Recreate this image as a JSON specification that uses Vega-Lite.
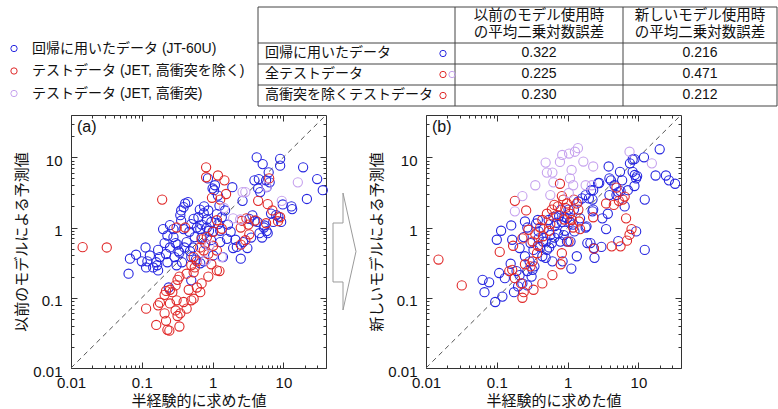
{
  "$schema": "https://vega.github.io/schema/vega-lite/v6.json",
  "background": "white",
  "padding": 0,
  "config": {
    "view": {"stroke": null},
    "font": "Liberation Sans",
    "axis": {"grid": false, "domain": false, "labelFont": "Liberation Sans", "labelFontSize": 15, "labelColor": "#111", "titleFont": "Noto Sans CJK JP", "titleFontSize": 15, "titleFontWeight": "normal", "titleColor": "#111", "tickColor": "#333", "domainColor": "#333", "labelFlush": false, "labelOverlap": false},
    "legend": {"orient": "none", "legendX": 7, "legendY": 41.5, "title": null, "padding": 0, "labelFont": "Liberation Sans, Noto Sans CJK JP", "labelFontSize": 14, "labelColor": "#111", "labelLimit": 400, "symbolType": "circle", "symbolSize": 40, "symbolStrokeWidth": 1, "labelOffset": 11, "rowPadding": 8.5}
  },
  "datasets": {
    "diag": [{"v": 0.01}, {"v": 40}],
    "cells": [
      {"r": 0, "c": 1, "t": "以前のモデル使用時\nの平均二乗対数誤差"},
      {"r": 0, "c": 2, "t": "新しいモデル使用時\nの平均二乗対数誤差"},
      {"r": 1, "c": 0, "t": "回帰に用いたデータ"},
      {"r": 1, "c": 1, "t": "0.322"},
      {"r": 1, "c": 2, "t": "0.216"},
      {"r": 2, "c": 0, "t": "全テストデータ"},
      {"r": 2, "c": 1, "t": "0.225"},
      {"r": 2, "c": 2, "t": "0.471"},
      {"r": 3, "c": 0, "t": "高衝突を除くテストデータ"},
      {"r": 3, "c": 1, "t": "0.230"},
      {"r": 3, "c": 2, "t": "0.212"}
    ],
    "marks": [{"r": 1, "g": "reg"}, {"r": 2, "g": "test"}, {"r": 2, "g": "hc"}, {"r": 3, "g": "test"}],
    "pts": [
      {"p":"a","g":"reg","x":0.065,"y":0.22},{"p":"a","g":"reg","x":0.068,"y":0.36},{"p":"a","g":"reg","x":0.083,"y":0.41},{"p":"a","g":"reg","x":0.1,"y":0.33},{"p":"a","g":"reg","x":0.113,"y":0.52},{"p":"a","g":"reg","x":0.115,"y":0.27},{"p":"a","g":"reg","x":0.12,"y":0.33},{"p":"a","g":"reg","x":0.13,"y":0.4},{"p":"a","g":"reg","x":0.145,"y":0.27},{"p":"a","g":"reg","x":0.16,"y":0.32},{"p":"a","g":"reg","x":0.165,"y":0.29},{"p":"a","g":"reg","x":0.17,"y":0.245},{"p":"a","g":"reg","x":0.17,"y":0.48},{"p":"a","g":"reg","x":0.18,"y":0.38},{"p":"a","g":"reg","x":0.2,"y":0.95},{"p":"a","g":"reg","x":0.21,"y":0.6},{"p":"a","g":"reg","x":0.22,"y":0.42},{"p":"a","g":"reg","x":0.23,"y":0.32},{"p":"a","g":"reg","x":0.23,"y":0.77},{"p":"a","g":"reg","x":0.24,"y":0.14},{"p":"a","g":"reg","x":0.25,"y":0.52},{"p":"a","g":"reg","x":0.25,"y":1.08},{"p":"a","g":"reg","x":0.28,"y":0.73},{"p":"a","g":"reg","x":0.28,"y":0.95},{"p":"a","g":"reg","x":0.29,"y":0.38},{"p":"a","g":"reg","x":0.3,"y":0.6},{"p":"a","g":"reg","x":0.31,"y":0.29},{"p":"a","g":"reg","x":0.32,"y":0.57},{"p":"a","g":"reg","x":0.33,"y":0.46},{"p":"a","g":"reg","x":0.34,"y":0.44},{"p":"a","g":"reg","x":0.35,"y":1.5},{"p":"a","g":"reg","x":0.36,"y":1.75},{"p":"a","g":"reg","x":0.36,"y":1.25},{"p":"a","g":"reg","x":0.37,"y":0.32},{"p":"a","g":"reg","x":0.39,"y":1.95},{"p":"a","g":"reg","x":0.39,"y":0.95},{"p":"a","g":"reg","x":0.4,"y":0.52},{"p":"a","g":"reg","x":0.41,"y":2.2},{"p":"a","g":"reg","x":0.43,"y":0.62},{"p":"a","g":"reg","x":0.45,"y":2.3},{"p":"a","g":"reg","x":0.47,"y":0.87},{"p":"a","g":"reg","x":0.48,"y":0.46},{"p":"a","g":"reg","x":0.5,"y":0.38},{"p":"a","g":"reg","x":0.5,"y":1.12},{"p":"a","g":"reg","x":0.5,"y":0.177},{"p":"a","g":"reg","x":0.53,"y":0.52},{"p":"a","g":"reg","x":0.54,"y":1.33},{"p":"a","g":"reg","x":0.56,"y":0.73},{"p":"a","g":"reg","x":0.58,"y":0.35},{"p":"a","g":"reg","x":0.6,"y":1.0},{"p":"a","g":"reg","x":0.63,"y":1.4},{"p":"a","g":"reg","x":0.66,"y":1.8},{"p":"a","g":"reg","x":0.67,"y":0.95},{"p":"a","g":"reg","x":0.67,"y":0.31},{"p":"a","g":"reg","x":0.7,"y":1.1},{"p":"a","g":"reg","x":0.7,"y":0.72},{"p":"a","g":"reg","x":0.75,"y":1.6},{"p":"a","g":"reg","x":0.75,"y":0.33},{"p":"a","g":"reg","x":0.76,"y":2.0},{"p":"a","g":"reg","x":0.79,"y":0.59},{"p":"a","g":"reg","x":0.83,"y":1.3},{"p":"a","g":"reg","x":0.83,"y":1.0},{"p":"a","g":"reg","x":0.86,"y":5.0},{"p":"a","g":"reg","x":0.87,"y":1.75},{"p":"a","g":"reg","x":0.89,"y":0.9},{"p":"a","g":"reg","x":0.95,"y":0.66},{"p":"a","g":"reg","x":0.96,"y":1.2},{"p":"a","g":"reg","x":1.0,"y":0.87},{"p":"a","g":"reg","x":1.0,"y":3.6},{"p":"a","g":"reg","x":1.02,"y":0.4},{"p":"a","g":"reg","x":1.05,"y":3.4},{"p":"a","g":"reg","x":1.08,"y":4.0},{"p":"a","g":"reg","x":1.15,"y":1.55},{"p":"a","g":"reg","x":1.19,"y":2.85},{"p":"a","g":"reg","x":1.2,"y":1.12},{"p":"a","g":"reg","x":1.25,"y":2.05},{"p":"a","g":"reg","x":1.28,"y":0.9},{"p":"a","g":"reg","x":1.28,"y":0.62},{"p":"a","g":"reg","x":1.35,"y":1.4},{"p":"a","g":"reg","x":1.4,"y":0.38},{"p":"a","g":"reg","x":1.5,"y":1.75},{"p":"a","g":"reg","x":1.6,"y":0.69},{"p":"a","g":"reg","x":1.65,"y":1.1},{"p":"a","g":"reg","x":1.8,"y":0.87},{"p":"a","g":"reg","x":1.9,"y":3.75},{"p":"a","g":"reg","x":1.95,"y":0.51},{"p":"a","g":"reg","x":2.1,"y":0.67},{"p":"a","g":"reg","x":2.2,"y":0.53},{"p":"a","g":"reg","x":2.5,"y":0.36},{"p":"a","g":"reg","x":2.65,"y":2.4},{"p":"a","g":"reg","x":2.7,"y":0.62},{"p":"a","g":"reg","x":3.1,"y":0.51},{"p":"a","g":"reg","x":3.3,"y":1.33},{"p":"a","g":"reg","x":3.5,"y":0.72},{"p":"a","g":"reg","x":3.65,"y":1.49},{"p":"a","g":"reg","x":3.9,"y":1.23},{"p":"a","g":"reg","x":3.9,"y":4.7},{"p":"a","g":"reg","x":4.2,"y":10},{"p":"a","g":"reg","x":4.3,"y":1.2},{"p":"a","g":"reg","x":4.4,"y":3.6},{"p":"a","g":"reg","x":4.5,"y":4.9},{"p":"a","g":"reg","x":4.6,"y":0.83},{"p":"a","g":"reg","x":4.7,"y":3.2},{"p":"a","g":"reg","x":5.0,"y":0.72},{"p":"a","g":"reg","x":5.1,"y":8.0},{"p":"a","g":"reg","x":5.3,"y":1.0},{"p":"a","g":"reg","x":5.4,"y":1.07},{"p":"a","g":"reg","x":5.7,"y":4.7},{"p":"a","g":"reg","x":5.8,"y":3.75},{"p":"a","g":"reg","x":5.8,"y":0.89},{"p":"a","g":"reg","x":6.0,"y":0.83},{"p":"a","g":"reg","x":6.2,"y":6.1},{"p":"a","g":"reg","x":6.4,"y":4.4},{"p":"a","g":"reg","x":6.7,"y":1.58},{"p":"a","g":"reg","x":7.2,"y":1.2},{"p":"a","g":"reg","x":7.9,"y":1.5},{"p":"a","g":"reg","x":8.5,"y":1.43},{"p":"a","g":"reg","x":9,"y":9.5},{"p":"a","g":"reg","x":9,"y":7.6},{"p":"a","g":"reg","x":9.3,"y":1.2},{"p":"a","g":"reg","x":9.8,"y":2.13},{"p":"a","g":"reg","x":13,"y":2.0},{"p":"a","g":"reg","x":13.3,"y":1.83},{"p":"a","g":"reg","x":19,"y":7.2},{"p":"a","g":"reg","x":21.5,"y":2.55},{"p":"a","g":"reg","x":30,"y":4.9},{"p":"a","g":"reg","x":36,"y":3.4},
      {"p":"a","g":"test","x":0.0146,"y":0.525},{"p":"a","g":"test","x":0.032,"y":0.52},{"p":"a","g":"test","x":0.194,"y":2.5},{"p":"a","g":"test","x":0.31,"y":1.0},{"p":"a","g":"test","x":0.41,"y":1.0},{"p":"a","g":"test","x":0.81,"y":7.2},{"p":"a","g":"test","x":0.81,"y":5.2},{"p":"a","g":"test","x":1.19,"y":5.5},{"p":"a","g":"test","x":1.47,"y":4.7},{"p":"a","g":"test","x":0.98,"y":2.65},{"p":"a","g":"test","x":1.28,"y":2.5},{"p":"a","g":"test","x":1.55,"y":3.0},{"p":"a","g":"test","x":1.15,"y":1.27},{"p":"a","g":"test","x":1.35,"y":0.96},{"p":"a","g":"test","x":1.02,"y":0.87},{"p":"a","g":"test","x":0.83,"y":0.73},{"p":"a","g":"test","x":0.75,"y":0.47},{"p":"a","g":"test","x":0.87,"y":0.42},{"p":"a","g":"test","x":0.96,"y":0.3},{"p":"a","g":"test","x":1.15,"y":0.245},{"p":"a","g":"test","x":0.87,"y":0.2},{"p":"a","g":"test","x":0.7,"y":0.16},{"p":"a","g":"test","x":0.67,"y":0.12},{"p":"a","g":"test","x":0.56,"y":0.27},{"p":"a","g":"test","x":0.5,"y":0.29},{"p":"a","g":"test","x":0.54,"y":0.23},{"p":"a","g":"test","x":0.43,"y":0.22},{"p":"a","g":"test","x":0.34,"y":0.2},{"p":"a","g":"test","x":0.32,"y":0.18},{"p":"a","g":"test","x":0.3,"y":0.15},{"p":"a","g":"test","x":0.25,"y":0.13},{"p":"a","g":"test","x":0.21,"y":0.11},{"p":"a","g":"test","x":0.22,"y":0.125},{"p":"a","g":"test","x":0.27,"y":0.12},{"p":"a","g":"test","x":0.31,"y":0.092},{"p":"a","g":"test","x":0.25,"y":0.083},{"p":"a","g":"test","x":0.18,"y":0.085},{"p":"a","g":"test","x":0.17,"y":0.078},{"p":"a","g":"test","x":0.115,"y":0.07},{"p":"a","g":"test","x":0.21,"y":0.06},{"p":"a","g":"test","x":0.3,"y":0.066},{"p":"a","g":"test","x":0.35,"y":0.06},{"p":"a","g":"test","x":0.43,"y":0.07},{"p":"a","g":"test","x":0.39,"y":0.087},{"p":"a","g":"test","x":0.5,"y":0.092},{"p":"a","g":"test","x":0.54,"y":0.097},{"p":"a","g":"test","x":0.22,"y":0.047},{"p":"a","g":"test","x":0.16,"y":0.041},{"p":"a","g":"test","x":0.23,"y":0.035},{"p":"a","g":"test","x":0.245,"y":0.034},{"p":"a","g":"test","x":0.34,"y":0.039},{"p":"a","g":"test","x":0.32,"y":0.055},{"p":"a","g":"test","x":0.6,"y":0.14},{"p":"a","g":"test","x":0.46,"y":0.13},{"p":"a","g":"test","x":0.54,"y":0.38},{"p":"a","g":"test","x":0.6,"y":0.33},{"p":"a","g":"test","x":0.67,"y":0.52},{"p":"a","g":"test","x":0.7,"y":0.68},{"p":"a","g":"test","x":1.02,"y":0.55},{"p":"a","g":"test","x":1.15,"y":0.47},{"p":"a","g":"test","x":1.25,"y":0.24},{"p":"a","g":"test","x":2.5,"y":0.57},{"p":"a","g":"test","x":2.9,"y":0.66},{"p":"a","g":"test","x":3.3,"y":0.8},{"p":"a","g":"test","x":4.4,"y":2.4},{"p":"a","g":"test","x":6.0,"y":2.15},{"p":"a","g":"test","x":7.0,"y":1.75},{"p":"a","g":"test","x":3.0,"y":1.35},{"p":"a","g":"test","x":4.0,"y":1.26},{"p":"a","g":"test","x":3.2,"y":1.1},{"p":"a","g":"test","x":5.7,"y":1.15},{"p":"a","g":"test","x":8.4,"y":1.23},{"p":"a","g":"test","x":9,"y":1.4},{"p":"a","g":"test","x":6.3,"y":5.0},{"p":"a","g":"test","x":2.5,"y":1.0},{"p":"a","g":"test","x":2.6,"y":1.25},
      {"p":"a","g":"hc","x":2.65,"y":3.2},{"p":"a","g":"hc","x":2.9,"y":3.2},{"p":"a","g":"hc","x":1.95,"y":1.35},{"p":"a","g":"hc","x":2.45,"y":1.3},{"p":"a","g":"hc","x":5.8,"y":3.8},{"p":"a","g":"hc","x":16,"y":4.4},{"p":"a","g":"hc","x":9.5,"y":2.4},{"p":"a","g":"hc","x":1.35,"y":0.38},{"p":"a","g":"hc","x":1.45,"y":1.9},{"p":"a","g":"hc","x":0.8,"y":0.34},{"p":"a","g":"hc","x":0.9,"y":0.55},
      {"p":"b","g":"reg","x":0.063,"y":0.18},{"p":"b","g":"reg","x":0.067,"y":0.12},{"p":"b","g":"reg","x":0.078,"y":0.166},{"p":"b","g":"reg","x":0.095,"y":0.087},{"p":"b","g":"reg","x":0.108,"y":0.225},{"p":"b","g":"reg","x":0.12,"y":0.104},{"p":"b","g":"reg","x":0.13,"y":0.19},{"p":"b","g":"reg","x":0.1,"y":0.67},{"p":"b","g":"reg","x":0.115,"y":0.9},{"p":"b","g":"reg","x":0.16,"y":1.07},{"p":"b","g":"reg","x":0.165,"y":0.67},{"p":"b","g":"reg","x":0.157,"y":0.305},{"p":"b","g":"reg","x":0.175,"y":0.12},{"p":"b","g":"reg","x":0.2,"y":0.145},{"p":"b","g":"reg","x":0.21,"y":0.51},{"p":"b","g":"reg","x":0.24,"y":0.73},{"p":"b","g":"reg","x":0.25,"y":0.39},{"p":"b","g":"reg","x":0.25,"y":1.22},{"p":"b","g":"reg","x":0.27,"y":1.0},{"p":"b","g":"reg","x":0.29,"y":0.33},{"p":"b","g":"reg","x":0.3,"y":0.6},{"p":"b","g":"reg","x":0.31,"y":0.2},{"p":"b","g":"reg","x":0.33,"y":0.48},{"p":"b","g":"reg","x":0.36,"y":1.14},{"p":"b","g":"reg","x":0.38,"y":1.28},{"p":"b","g":"reg","x":0.39,"y":0.7},{"p":"b","g":"reg","x":0.41,"y":0.53},{"p":"b","g":"reg","x":0.44,"y":0.39},{"p":"b","g":"reg","x":0.46,"y":0.95},{"p":"b","g":"reg","x":0.49,"y":0.63},{"p":"b","g":"reg","x":0.51,"y":0.48},{"p":"b","g":"reg","x":0.54,"y":1.28},{"p":"b","g":"reg","x":0.57,"y":0.78},{"p":"b","g":"reg","x":0.6,"y":0.6},{"p":"b","g":"reg","x":0.63,"y":1.42},{"p":"b","g":"reg","x":0.66,"y":1.05},{"p":"b","g":"reg","x":0.73,"y":0.82},{"p":"b","g":"reg","x":0.76,"y":1.46},{"p":"b","g":"reg","x":0.81,"y":1.8},{"p":"b","g":"reg","x":0.83,"y":1.2},{"p":"b","g":"reg","x":0.88,"y":0.78},{"p":"b","g":"reg","x":0.92,"y":0.9},{"p":"b","g":"reg","x":0.98,"y":1.35},{"p":"b","g":"reg","x":1.03,"y":1.8},{"p":"b","g":"reg","x":1.08,"y":1.2},{"p":"b","g":"reg","x":1.1,"y":0.63},{"p":"b","g":"reg","x":1.13,"y":0.26},{"p":"b","g":"reg","x":1.23,"y":1.8},{"p":"b","g":"reg","x":1.35,"y":0.39},{"p":"b","g":"reg","x":1.42,"y":2.35},{"p":"b","g":"reg","x":1.5,"y":1.35},{"p":"b","g":"reg","x":1.6,"y":2.6},{"p":"b","g":"reg","x":1.8,"y":1.0},{"p":"b","g":"reg","x":1.9,"y":0.6},{"p":"b","g":"reg","x":2.0,"y":2.6},{"p":"b","g":"reg","x":2.15,"y":3.4},{"p":"b","g":"reg","x":2.25,"y":2.5},{"p":"b","g":"reg","x":2.3,"y":1.8},{"p":"b","g":"reg","x":2.35,"y":0.51},{"p":"b","g":"reg","x":2.4,"y":0.37},{"p":"b","g":"reg","x":2.7,"y":4.3},{"p":"b","g":"reg","x":3.0,"y":0.53},{"p":"b","g":"reg","x":3.1,"y":1.35},{"p":"b","g":"reg","x":3.5,"y":0.95},{"p":"b","g":"reg","x":3.7,"y":1.57},{"p":"b","g":"reg","x":3.8,"y":7.4},{"p":"b","g":"reg","x":3.9,"y":5.0},{"p":"b","g":"reg","x":4.1,"y":4.7},{"p":"b","g":"reg","x":4.6,"y":4.0},{"p":"b","g":"reg","x":4.9,"y":2.9},{"p":"b","g":"reg","x":5.2,"y":3.2},{"p":"b","g":"reg","x":5.2,"y":0.64},{"p":"b","g":"reg","x":5.5,"y":6.2},{"p":"b","g":"reg","x":5.9,"y":4.7},{"p":"b","g":"reg","x":6.4,"y":2.0},{"p":"b","g":"reg","x":7.1,"y":3.4},{"p":"b","g":"reg","x":7.6,"y":8.2},{"p":"b","g":"reg","x":8.3,"y":9.3},{"p":"b","g":"reg","x":8.3,"y":6.2},{"p":"b","g":"reg","x":8.8,"y":3.9},{"p":"b","g":"reg","x":8.9,"y":5.6},{"p":"b","g":"reg","x":9.3,"y":5.0},{"p":"b","g":"reg","x":9.3,"y":0.88},{"p":"b","g":"reg","x":12,"y":10},{"p":"b","g":"reg","x":12.3,"y":2.5},{"p":"b","g":"reg","x":12.3,"y":0.48},{"p":"b","g":"reg","x":20,"y":13},{"p":"b","g":"reg","x":17.5,"y":5.5},{"p":"b","g":"reg","x":27,"y":4.7},{"p":"b","g":"reg","x":33,"y":4.2},{"p":"b","g":"reg","x":0.39,"y":0.88},{"p":"b","g":"reg","x":0.45,"y":0.63},{"p":"b","g":"reg","x":0.49,"y":0.37},{"p":"b","g":"reg","x":0.55,"y":0.52},{"p":"b","g":"reg","x":0.61,"y":0.33},{"p":"b","g":"reg","x":0.65,"y":0.72},{"p":"b","g":"reg","x":0.7,"y":1.17},{"p":"b","g":"reg","x":0.79,"y":0.63},{"p":"b","g":"reg","x":0.85,"y":0.33},{"p":"b","g":"reg","x":0.9,"y":1.42},{"p":"b","g":"reg","x":0.98,"y":0.63},{"p":"b","g":"reg","x":1.2,"y":1.1},{"p":"b","g":"reg","x":1.25,"y":0.88},{"p":"b","g":"reg","x":0.32,"y":0.25},{"p":"b","g":"reg","x":0.34,"y":0.28},{"p":"b","g":"reg","x":0.27,"y":0.24},{"p":"b","g":"reg","x":0.21,"y":0.21},{"p":"b","g":"reg","x":0.19,"y":0.24},{"p":"b","g":"reg","x":0.23,"y":0.16},{"p":"b","g":"reg","x":0.27,"y":0.15},{"p":"b","g":"reg","x":8.8,"y":9.4},{"p":"b","g":"reg","x":9.6,"y":5.4},{"p":"b","g":"reg","x":24.5,"y":5.5},{"p":"b","g":"reg","x":5.6,"y":3.3},{"p":"b","g":"reg","x":3.9,"y":2.9},{"p":"b","g":"reg","x":2.8,"y":4.3},{"p":"b","g":"reg","x":2.3,"y":3.4},{"p":"b","g":"reg","x":1.8,"y":2.9},{"p":"b","g":"reg","x":2.25,"y":1.7},{"p":"b","g":"reg","x":1.85,"y":1.04},{"p":"b","g":"reg","x":2.1,"y":0.6},
      {"p":"b","g":"test","x":0.015,"y":0.35},{"p":"b","g":"test","x":0.032,"y":0.15},{"p":"b","g":"test","x":0.11,"y":0.45},{"p":"b","g":"test","x":0.17,"y":0.55},{"p":"b","g":"test","x":0.18,"y":2.4},{"p":"b","g":"test","x":0.26,"y":1.75},{"p":"b","g":"test","x":0.165,"y":0.25},{"p":"b","g":"test","x":0.15,"y":0.24},{"p":"b","g":"test","x":0.18,"y":0.19},{"p":"b","g":"test","x":0.22,"y":0.16},{"p":"b","g":"test","x":0.23,"y":0.1},{"p":"b","g":"test","x":0.24,"y":0.12},{"p":"b","g":"test","x":0.33,"y":0.13},{"p":"b","g":"test","x":0.44,"y":0.16},{"p":"b","g":"test","x":0.61,"y":0.21},{"p":"b","g":"test","x":0.3,"y":0.28},{"p":"b","g":"test","x":0.32,"y":0.33},{"p":"b","g":"test","x":0.37,"y":0.43},{"p":"b","g":"test","x":0.25,"y":0.3},{"p":"b","g":"test","x":0.23,"y":0.7},{"p":"b","g":"test","x":0.28,"y":0.93},{"p":"b","g":"test","x":0.32,"y":0.63},{"p":"b","g":"test","x":0.41,"y":1.0},{"p":"b","g":"test","x":0.44,"y":1.28},{"p":"b","g":"test","x":0.51,"y":1.57},{"p":"b","g":"test","x":0.57,"y":1.12},{"p":"b","g":"test","x":0.6,"y":1.8},{"p":"b","g":"test","x":0.65,"y":2.1},{"p":"b","g":"test","x":0.73,"y":2.0},{"p":"b","g":"test","x":0.78,"y":4.2},{"p":"b","g":"test","x":0.83,"y":2.8},{"p":"b","g":"test","x":0.87,"y":2.5},{"p":"b","g":"test","x":0.93,"y":1.9},{"p":"b","g":"test","x":0.98,"y":2.2},{"p":"b","g":"test","x":1.08,"y":1.57},{"p":"b","g":"test","x":1.14,"y":1.28},{"p":"b","g":"test","x":1.2,"y":1.0},{"p":"b","g":"test","x":1.23,"y":2.5},{"p":"b","g":"test","x":1.35,"y":2.2},{"p":"b","g":"test","x":1.42,"y":1.8},{"p":"b","g":"test","x":1.45,"y":1.22},{"p":"b","g":"test","x":1.5,"y":0.95},{"p":"b","g":"test","x":0.83,"y":0.43},{"p":"b","g":"test","x":0.8,"y":0.3},{"p":"b","g":"test","x":1.03,"y":0.63},{"p":"b","g":"test","x":2.3,"y":1.4},{"p":"b","g":"test","x":2.35,"y":0.5},{"p":"b","g":"test","x":3.5,"y":2.2},{"p":"b","g":"test","x":4.2,"y":0.54},{"p":"b","g":"test","x":4.5,"y":2.1},{"p":"b","g":"test","x":5.3,"y":2.4},{"p":"b","g":"test","x":5.6,"y":0.54},{"p":"b","g":"test","x":6.0,"y":2.5},{"p":"b","g":"test","x":6.7,"y":1.35},{"p":"b","g":"test","x":6.9,"y":0.65},{"p":"b","g":"test","x":8,"y":0.95},{"p":"b","g":"test","x":0.35,"y":0.8},{"p":"b","g":"test","x":0.45,"y":0.75},{"p":"b","g":"test","x":0.55,"y":0.9},{"p":"b","g":"test","x":0.7,"y":1.5},{"p":"b","g":"test","x":0.9,"y":1.3},{"p":"b","g":"test","x":0.38,"y":0.55},{"p":"b","g":"test","x":4.9,"y":3.7},{"p":"b","g":"test","x":6.4,"y":2.76},{"p":"b","g":"test","x":7.5,"y":0.79},
      {"p":"b","g":"hc","x":0.49,"y":8.4},{"p":"b","g":"hc","x":0.51,"y":6.05},{"p":"b","g":"hc","x":0.61,"y":6.05},{"p":"b","g":"hc","x":0.63,"y":4.4},{"p":"b","g":"hc","x":0.35,"y":4.0},{"p":"b","g":"hc","x":0.23,"y":2.8},{"p":"b","g":"hc","x":0.18,"y":1.7},{"p":"b","g":"hc","x":0.78,"y":8.6},{"p":"b","g":"hc","x":0.84,"y":10.8},{"p":"b","g":"hc","x":1.05,"y":11.3},{"p":"b","g":"hc","x":1.27,"y":12},{"p":"b","g":"hc","x":1.4,"y":13.5},{"p":"b","g":"hc","x":1.14,"y":6.6},{"p":"b","g":"hc","x":1.08,"y":5.0},{"p":"b","g":"hc","x":1.2,"y":4.0},{"p":"b","g":"hc","x":1.67,"y":8.7},{"p":"b","g":"hc","x":1.8,"y":4.0},{"p":"b","g":"hc","x":2.3,"y":7.4},{"p":"b","g":"hc","x":2.2,"y":4.0},{"p":"b","g":"hc","x":7.5,"y":12},{"p":"b","g":"hc","x":15.5,"y":8.2},{"p":"b","g":"hc","x":1.04,"y":3.1},{"p":"b","g":"hc","x":0.57,"y":2.9}
    ]
  },
  "spacing": 8,
  "bounds": "flush",
  "vconcat": [
    {
      "width": 778,
      "height": 107,
      "layer": [
        {
          "data": {"values": [{"b": -0.5}, {"b": 0.5}, {"b": 1.5}, {"b": 2.5}, {"b": 3.5}]},
          "mark": {"type": "rule", "color": "#444", "strokeWidth": 1},
          "encoding": {
            "y": {"field": "b", "type": "quantitative", "scale": {"type": "linear", "domain": [-0.5, 0.5, 1.5, 2.5, 3.5], "range": [7, 43, 64, 85, 106], "nice": false, "zero": false}, "axis": null},
            "x": {"datum": -0.5, "type": "quantitative", "scale": {"type": "linear", "domain": [-0.5, 0.5, 1.5, 2.5], "range": [258, 455, 623, 777], "nice": false, "zero": false}, "axis": null},
            "x2": {"datum": 2.5}
          }
        },
        {
          "data": {"values": [{"b": -0.5}, {"b": 0.5}, {"b": 1.5}, {"b": 2.5}]},
          "mark": {"type": "rule", "color": "#444", "strokeWidth": 1},
          "encoding": {
            "x": {"field": "b", "type": "quantitative", "scale": {"type": "linear", "domain": [-0.5, 0.5, 1.5, 2.5], "range": [258, 455, 623, 777], "nice": false, "zero": false}, "axis": null},
            "y": {"datum": -0.5, "type": "quantitative", "scale": {"type": "linear", "domain": [-0.5, 0.5, 1.5, 2.5, 3.5], "range": [7, 43, 64, 85, 106], "nice": false, "zero": false}, "axis": null},
            "y2": {"datum": 3.5}
          }
        },
        {
          "data": {"name": "cells"},
          "transform": [{"filter": "datum.r == 0"}],
          "mark": {"type": "text", "lineBreak": "\n", "lineHeight": 17, "font": "Noto Sans CJK JP", "fontSize": 14.5, "align": "center", "baseline": "middle", "dy": -9.5, "color": "#111"},
          "encoding": {
            "x": {"field": "c", "type": "quantitative", "scale": {"type": "linear", "domain": [-0.5, 0.5, 1.5, 2.5], "range": [258, 455, 623, 777], "nice": false, "zero": false}, "axis": null},
            "y": {"field": "r", "type": "quantitative", "scale": {"type": "linear", "domain": [-0.5, 0.5, 1.5, 2.5, 3.5], "range": [7, 43, 64, 85, 106], "nice": false, "zero": false}, "axis": null},
            "text": {"field": "t"}
          }
        },
        {
          "data": {"name": "cells"},
          "transform": [{"filter": "datum.r > 0 && datum.c == 0"}],
          "mark": {"type": "text", "font": "Noto Sans CJK JP", "fontSize": 14, "align": "left", "baseline": "middle", "dy": -1, "color": "#111"},
          "encoding": {
            "x": {"datum": -0.465, "type": "quantitative", "scale": {"type": "linear", "domain": [-0.5, 0.5, 1.5, 2.5], "range": [258, 455, 623, 777], "nice": false, "zero": false}, "axis": null},
            "y": {"field": "r", "type": "quantitative", "scale": {"type": "linear", "domain": [-0.5, 0.5, 1.5, 2.5, 3.5], "range": [7, 43, 64, 85, 106], "nice": false, "zero": false}, "axis": null},
            "text": {"field": "t"}
          }
        },
        {
          "data": {"name": "cells"},
          "transform": [{"filter": "datum.r > 0 && datum.c > 0"}],
          "mark": {"type": "text", "font": "Liberation Sans", "fontSize": 14, "align": "center", "baseline": "middle", "dy": -1, "color": "#111"},
          "encoding": {
            "x": {"field": "c", "type": "quantitative", "scale": {"type": "linear", "domain": [-0.5, 0.5, 1.5, 2.5], "range": [258, 455, 623, 777], "nice": false, "zero": false}, "axis": null},
            "y": {"field": "r", "type": "quantitative", "scale": {"type": "linear", "domain": [-0.5, 0.5, 1.5, 2.5, 3.5], "range": [7, 43, 64, 85, 106], "nice": false, "zero": false}, "axis": null},
            "text": {"field": "t"}
          }
        },
        {
          "data": {"name": "marks"},
          "transform": [{"filter": "datum.g != 'hc'"}],
          "mark": {"type": "point", "filled": false, "size": 40, "strokeWidth": 1, "opacity": 1},
          "encoding": {
            "x": {"datum": 0.439, "type": "quantitative", "scale": {"type": "linear", "domain": [-0.5, 0.5, 1.5, 2.5], "range": [258, 455, 623, 777], "nice": false, "zero": false}, "axis": null},
            "y": {"field": "r", "type": "quantitative", "scale": {"type": "linear", "domain": [-0.5, 0.5, 1.5, 2.5, 3.5], "range": [7, 43, 64, 85, 106], "nice": false, "zero": false}, "axis": null},
            "color": {"field": "g", "type": "nominal", "scale": {"domain": ["reg", "test", "hc"], "range": ["#2626e0", "#e02828", "#c6a2ee"]}, "legend": {"labelExpr": "datum.value == 'reg' ? '回帰に用いたデータ (JT-60U)' : datum.value == 'test' ? 'テストデータ (JET, 高衝突を除く)' : 'テストデータ (JET, 高衝突)'"}}
          }
        },
        {
          "data": {"name": "marks"},
          "transform": [{"filter": "datum.g == 'hc'"}],
          "mark": {"type": "point", "filled": false, "size": 40, "strokeWidth": 1, "opacity": 1},
          "encoding": {
            "x": {"datum": 0.485, "type": "quantitative", "scale": {"type": "linear", "domain": [-0.5, 0.5, 1.5, 2.5], "range": [258, 455, 623, 777], "nice": false, "zero": false}, "axis": null},
            "y": {"field": "r", "type": "quantitative", "scale": {"type": "linear", "domain": [-0.5, 0.5, 1.5, 2.5, 3.5], "range": [7, 43, 64, 85, 106], "nice": false, "zero": false}, "axis": null},
            "color": {"field": "g", "type": "nominal", "scale": {"domain": ["reg", "test", "hc"], "range": ["#2626e0", "#e02828", "#c6a2ee"]}, "legend": {"labelExpr": "datum.value == 'reg' ? '回帰に用いたデータ (JT-60U)' : datum.value == 'test' ? 'テストデータ (JET, 高衝突を除く)' : 'テストデータ (JET, 高衝突)'"}}
          }
        }
      ]
    },
    {
      "spacing": 0,
      "bounds": "flush",
      "hconcat": [
        {"width": 71, "height": 253, "data": {"values": []}, "mark": "point"},
        {
          "width": 255,
          "height": 253,
          "title": {"text": "(a)", "orient": "top", "anchor": "start", "frame": "group", "offset": -22, "dx": 6, "fontSize": 16, "fontWeight": "normal", "font": "Liberation Sans", "color": "#111"},
          "layer": [
            {
              "data": {"name": "diag"},
              "mark": {"type": "line", "strokeDash": [5, 4], "color": "#555", "strokeWidth": 1},
              "encoding": {
                "x": {"field": "v", "type": "quantitative", "scale": {"type": "log", "domain": [0.01, 40], "nice": false}, "axis": {"orient": "top", "values": [0.02,0.03,0.04,0.05,0.06,0.07,0.08,0.09,0.2,0.3,0.4,0.5,0.6,0.7,0.8,0.9,2,3,4,5,6,7,8,9,20,30], "labels": false, "tickSize": -3, "title": null}},
                "y": {"field": "v", "type": "quantitative", "scale": {"type": "log", "domain": [0.01, 40], "nice": false}, "axis": {"orient": "right", "values": [0.02,0.03,0.04,0.05,0.06,0.07,0.08,0.09,0.2,0.3,0.4,0.5,0.6,0.7,0.8,0.9,2,3,4,5,6,7,8,9,20,30], "labels": false, "tickSize": -3, "title": null}}
              }
            },
            {
              "data": {"name": "pts"},
              "transform": [{"filter": "datum.p == 'a' && datum.g == 'reg'"}],
              "mark": {"type": "point", "filled": false, "size": 85, "strokeWidth": 1.1, "opacity": 1},
              "encoding": {
                "x": {"field": "x", "type": "quantitative", "scale": {"type": "log", "domain": [0.01, 40], "nice": false}, "axis": {"orient": "bottom", "values": [0.01, 0.1, 1, 10], "format": "~g", "domain": true, "tickSize": -6, "labelPadding": 13, "title": "半経験的に求めた値", "titlePadding": 3}},
                "y": {"field": "y", "type": "quantitative", "scale": {"type": "log", "domain": [0.01, 40], "nice": false}, "axis": {"orient": "left", "values": [0.01, 0.1, 1, 10], "format": "~g", "domain": true, "tickSize": -6, "labelPadding": 15, "labelOffset": 3, "title": "以前のモデルによる予測値", "titlePadding": 3}},
                "color": {"field": "g", "type": "nominal", "scale": {"domain": ["reg", "test", "hc"], "range": ["#2626e0", "#e02828", "#c6a2ee"]}, "legend": {"labelExpr": "datum.value == 'reg' ? '回帰に用いたデータ (JT-60U)' : datum.value == 'test' ? 'テストデータ (JET, 高衝突を除く)' : 'テストデータ (JET, 高衝突)'"}}
              }
            },
            {
              "data": {"name": "pts"},
              "transform": [{"filter": "datum.p == 'a' && datum.g == 'test'"}],
              "mark": {"type": "point", "filled": false, "size": 85, "strokeWidth": 1.1, "opacity": 1},
              "encoding": {
                "x": {"field": "x", "type": "quantitative", "scale": {"type": "log", "domain": [0.01, 40], "nice": false}, "axis": {"orient": "bottom", "values": [0.02,0.03,0.04,0.05,0.06,0.07,0.08,0.09,0.2,0.3,0.4,0.5,0.6,0.7,0.8,0.9,2,3,4,5,6,7,8,9,20,30], "labels": false, "tickSize": -3, "title": null}},
                "y": {"field": "y", "type": "quantitative", "scale": {"type": "log", "domain": [0.01, 40], "nice": false}, "axis": {"orient": "left", "values": [0.02,0.03,0.04,0.05,0.06,0.07,0.08,0.09,0.2,0.3,0.4,0.5,0.6,0.7,0.8,0.9,2,3,4,5,6,7,8,9,20,30], "labels": false, "tickSize": -3, "title": null}},
                "color": {"field": "g", "type": "nominal", "scale": {"domain": ["reg", "test", "hc"], "range": ["#2626e0", "#e02828", "#c6a2ee"]}, "legend": {"labelExpr": "datum.value == 'reg' ? '回帰に用いたデータ (JT-60U)' : datum.value == 'test' ? 'テストデータ (JET, 高衝突を除く)' : 'テストデータ (JET, 高衝突)'"}}
              }
            },
            {
              "data": {"name": "pts"},
              "transform": [{"filter": "datum.p == 'a' && datum.g == 'hc'"}],
              "mark": {"type": "point", "filled": false, "size": 85, "strokeWidth": 1.1, "opacity": 1},
              "encoding": {
                "x": {"field": "x", "type": "quantitative", "scale": {"type": "log", "domain": [0.01, 40], "nice": false}, "axis": {"orient": "top", "values": [0.01, 0.1, 1, 10], "labels": false, "domain": true, "tickSize": -6, "title": null}},
                "y": {"field": "y", "type": "quantitative", "scale": {"type": "log", "domain": [0.01, 40], "nice": false}, "axis": {"orient": "right", "values": [0.01, 0.1, 1, 10], "labels": false, "domain": true, "tickSize": -6, "title": null}},
                "color": {"field": "g", "type": "nominal", "scale": {"domain": ["reg", "test", "hc"], "range": ["#2626e0", "#e02828", "#c6a2ee"]}, "legend": {"labelExpr": "datum.value == 'reg' ? '回帰に用いたデータ (JT-60U)' : datum.value == 'test' ? 'テストデータ (JET, 高衝突を除く)' : 'テストデータ (JET, 高衝突)'"}}
              }
            }
          ],
          "resolve": {"axis": {"x": "independent", "y": "independent"}}
        },
        {
          "width": 100,
          "height": 253,
          "data": {"values": [{"shape": "arrow"}]},
          "mark": {"type": "point", "shape": "M-0.735,-0.316L-0.564,-0.316L-0.564,-0.829L-0.342,0.171L-0.564,1.171L-0.564,0.692L-0.735,0.692Z", "size": 13689, "filled": false, "stroke": "#9a9a9a", "strokeWidth": 1, "opacity": 1},
          "encoding": {}
        },
        {
          "width": 255,
          "height": 253,
          "title": {"text": "(b)", "orient": "top", "anchor": "start", "frame": "group", "offset": -22, "dx": 6, "fontSize": 16, "fontWeight": "normal", "font": "Liberation Sans", "color": "#111"},
          "layer": [
            {
              "data": {"name": "diag"},
              "mark": {"type": "line", "strokeDash": [5, 4], "color": "#555", "strokeWidth": 1},
              "encoding": {
                "x": {"field": "v", "type": "quantitative", "scale": {"type": "log", "domain": [0.01, 40], "nice": false}, "axis": {"orient": "top", "values": [0.02,0.03,0.04,0.05,0.06,0.07,0.08,0.09,0.2,0.3,0.4,0.5,0.6,0.7,0.8,0.9,2,3,4,5,6,7,8,9,20,30], "labels": false, "tickSize": -3, "title": null}},
                "y": {"field": "v", "type": "quantitative", "scale": {"type": "log", "domain": [0.01, 40], "nice": false}, "axis": {"orient": "right", "values": [0.02,0.03,0.04,0.05,0.06,0.07,0.08,0.09,0.2,0.3,0.4,0.5,0.6,0.7,0.8,0.9,2,3,4,5,6,7,8,9,20,30], "labels": false, "tickSize": -3, "title": null}}
              }
            },
            {
              "data": {"name": "pts"},
              "transform": [{"filter": "datum.p == 'b' && datum.g == 'reg'"}],
              "mark": {"type": "point", "filled": false, "size": 85, "strokeWidth": 1.1, "opacity": 1},
              "encoding": {
                "x": {"field": "x", "type": "quantitative", "scale": {"type": "log", "domain": [0.01, 40], "nice": false}, "axis": {"orient": "bottom", "values": [0.01, 0.1, 1, 10], "format": "~g", "domain": true, "tickSize": -6, "labelPadding": 13, "title": "半経験的に求めた値", "titlePadding": 3}},
                "y": {"field": "y", "type": "quantitative", "scale": {"type": "log", "domain": [0.01, 40], "nice": false}, "axis": {"orient": "left", "values": [0.01, 0.1, 1, 10], "format": "~g", "domain": true, "tickSize": -6, "labelPadding": 15, "labelOffset": 3, "title": "新しいモデルによる予測値", "titlePadding": 3}},
                "color": {"field": "g", "type": "nominal", "scale": {"domain": ["reg", "test", "hc"], "range": ["#2626e0", "#e02828", "#c6a2ee"]}, "legend": {"labelExpr": "datum.value == 'reg' ? '回帰に用いたデータ (JT-60U)' : datum.value == 'test' ? 'テストデータ (JET, 高衝突を除く)' : 'テストデータ (JET, 高衝突)'"}}
              }
            },
            {
              "data": {"name": "pts"},
              "transform": [{"filter": "datum.p == 'b' && datum.g == 'test'"}],
              "mark": {"type": "point", "filled": false, "size": 85, "strokeWidth": 1.1, "opacity": 1},
              "encoding": {
                "x": {"field": "x", "type": "quantitative", "scale": {"type": "log", "domain": [0.01, 40], "nice": false}, "axis": {"orient": "bottom", "values": [0.02,0.03,0.04,0.05,0.06,0.07,0.08,0.09,0.2,0.3,0.4,0.5,0.6,0.7,0.8,0.9,2,3,4,5,6,7,8,9,20,30], "labels": false, "tickSize": -3, "title": null}},
                "y": {"field": "y", "type": "quantitative", "scale": {"type": "log", "domain": [0.01, 40], "nice": false}, "axis": {"orient": "left", "values": [0.02,0.03,0.04,0.05,0.06,0.07,0.08,0.09,0.2,0.3,0.4,0.5,0.6,0.7,0.8,0.9,2,3,4,5,6,7,8,9,20,30], "labels": false, "tickSize": -3, "title": null}},
                "color": {"field": "g", "type": "nominal", "scale": {"domain": ["reg", "test", "hc"], "range": ["#2626e0", "#e02828", "#c6a2ee"]}, "legend": {"labelExpr": "datum.value == 'reg' ? '回帰に用いたデータ (JT-60U)' : datum.value == 'test' ? 'テストデータ (JET, 高衝突を除く)' : 'テストデータ (JET, 高衝突)'"}}
              }
            },
            {
              "data": {"name": "pts"},
              "transform": [{"filter": "datum.p == 'b' && datum.g == 'hc'"}],
              "mark": {"type": "point", "filled": false, "size": 85, "strokeWidth": 1.1, "opacity": 1},
              "encoding": {
                "x": {"field": "x", "type": "quantitative", "scale": {"type": "log", "domain": [0.01, 40], "nice": false}, "axis": {"orient": "top", "values": [0.01, 0.1, 1, 10], "labels": false, "domain": true, "tickSize": -6, "title": null}},
                "y": {"field": "y", "type": "quantitative", "scale": {"type": "log", "domain": [0.01, 40], "nice": false}, "axis": {"orient": "right", "values": [0.01, 0.1, 1, 10], "labels": false, "domain": true, "tickSize": -6, "title": null}},
                "color": {"field": "g", "type": "nominal", "scale": {"domain": ["reg", "test", "hc"], "range": ["#2626e0", "#e02828", "#c6a2ee"]}, "legend": {"labelExpr": "datum.value == 'reg' ? '回帰に用いたデータ (JT-60U)' : datum.value == 'test' ? 'テストデータ (JET, 高衝突を除く)' : 'テストデータ (JET, 高衝突)'"}}
              }
            }
          ],
          "resolve": {"axis": {"x": "independent", "y": "independent"}}
        }
      ]
    }
  ]
}
